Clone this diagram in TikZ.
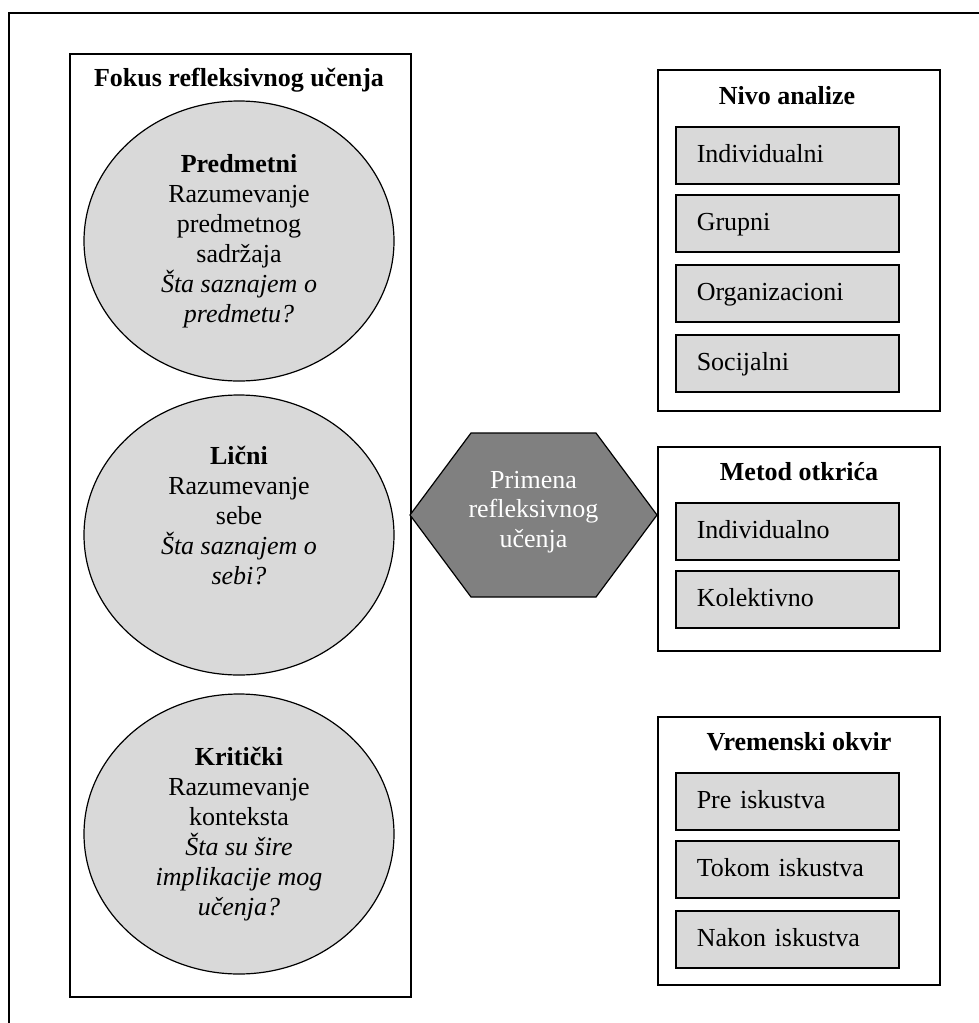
\documentclass[tikz,border=0pt]{standalone}
\usepackage{fontspec}
\setmainfont{Liberation Serif}
\usetikzlibrary{shapes.geometric}
\definecolor{panelgray}{HTML}{D9D9D9}
\definecolor{hexgray}{HTML}{808080}
\begin{document}
\begin{tikzpicture}[x=1pt,y=-1pt,
  every node/.style={font=\fontsize{26}{30}\selectfont},
  frame/.style={draw, line width=1.5pt},
  panel/.style={frame, anchor=north west, inner sep=0pt},
  heading/.style={anchor=base, font=\fontsize{26}{30}\selectfont\bfseries},
  lens/.style={ellipse, draw, line width=1.2pt, fill=panelgray,
    minimum width=310pt, minimum height=280pt, align=center, inner sep=0pt},
  item/.style={draw, line width=1.5pt, fill=panelgray, anchor=north west,
    text width=181pt, inner xsep=21pt, inner ysep=0pt, minimum height=57pt,
    text height=15pt, text depth=0pt, align=left}
]
\useasboundingbox (0,0) rectangle (979,1023);

% outer frame (runs off the page to the right and bottom)
\coordinate (frameTR) at (979,13);
\coordinate (frameTL) at (9,13);
\coordinate (frameBL) at (9,1023);
\draw[line width=1.5pt] (frameTR) -- (frameTL) -- (frameBL);

% left column: focus of reflective learning
\node[panel, minimum width=341pt, minimum height=943pt] (focus) at (69,53) {};
\node[heading] (focustitle) at (239,86) {Fokus refleksivnog učenja};

\node[lens] (subject) at (239,241)
  {\textbf{Predmetni}\\Razumevanje\\predmetnog\\sadržaja\\\textit{Šta saznajem o}\\\textit{predmetu?}};
\node[lens] (personal) at (239,535)
  {\textbf{Lični}\\Razumevanje\\sebe\\\textit{Šta saznajem o}\\\textit{sebi?}\\\strut};
\node[lens] (critical) at (239,834)
  {\textbf{Kritički}\\Razumevanje\\konteksta\\\textit{Šta su šire}\\\textit{implikacije mog}\\\textit{učenja?}};

% central hexagon
\coordinate (hW) at (410,515);
\coordinate (hNW) at (471,433);
\coordinate (hNE) at (596,433);
\coordinate (hE) at (657,515);
\coordinate (hSE) at (596,597);
\coordinate (hSW) at (471,597);
\filldraw[fill=hexgray, draw=black, line width=1.2pt]
  (hW) -- (hNW) -- (hNE) -- (hE) -- (hSE) -- (hSW) -- cycle;
\node[text=white, align=center, font=\fontsize{26}{29.5}\selectfont] (apply) at (533.5,512)
  {Primena\\refleksivnog\\učenja};

% level of analysis
\node[panel, minimum width=282pt, minimum height=341pt] (levels) at (657,69) {};
\node[heading] (levelstitle) at (787,104) {Nivo analize};
\node[item] (lv1) at (675,126) {Individualni};
\node[item] (lv2) at (675,194) {Grupni};
\node[item] (lv3) at (675,264) {Organizacioni};
\node[item] (lv4) at (675,334) {Socijalni};

% method of discovery
\node[panel, minimum width=282pt, minimum height=204pt] (method) at (657,446) {};
\node[heading] (methodtitle) at (799,480) {Metod otkrića};
\node[item] (md1) at (675,502) {Individualno};
\node[item] (md2) at (675,570) {Kolektivno};

% time frame
\node[panel, minimum width=282pt, minimum height=268pt] (time) at (657,716) {};
\node[heading] (timetitle) at (799,750) {Vremenski okvir};
\node[item] (tf1) at (675,772) {Pre iskustva};
\node[item] (tf2) at (675,840) {Tokom iskustva};
\node[item] (tf3) at (675,910) {Nakon iskustva};
\end{tikzpicture}
\end{document}
